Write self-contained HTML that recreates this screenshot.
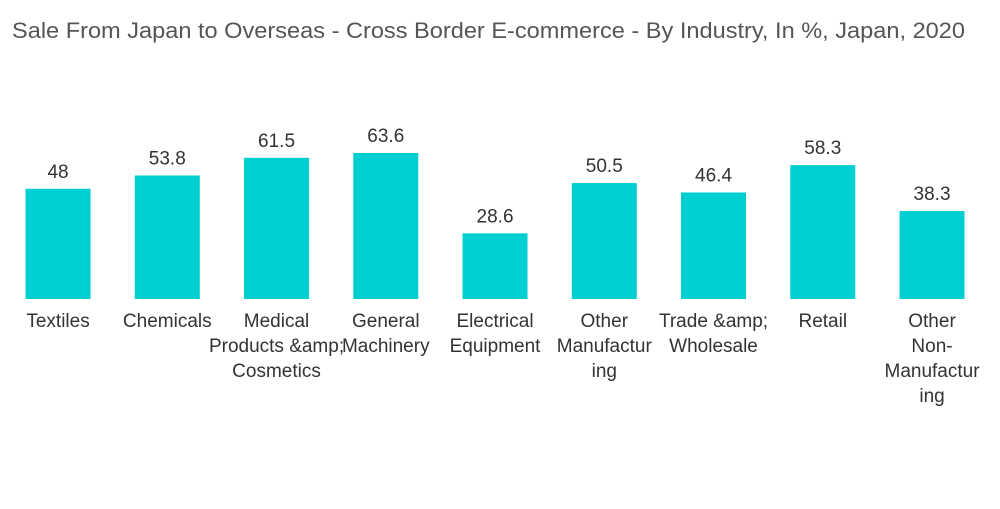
<!DOCTYPE html>
<html><head><meta charset="utf-8"><style>
body{margin:0;background:#fff;width:1000px;height:504px;overflow:hidden;font-family:"Liberation Sans",sans-serif}
svg text{font-family:"Liberation Sans",sans-serif}
</style></head><body>
<svg width="1000" height="504">
<text x="12" y="38" font-size="22" fill="#555" textLength="953" lengthAdjust="spacingAndGlyphs">Sale From Japan to Overseas - Cross Border E-commerce - By Industry, In %, Japan, 2020</text>
<g id="bars"></g>
</svg>
<script>
const categories=[["Textiles"],["Chemicals"],["Medical","Products &amp;","Cosmetics"],["General","Machinery"],["Electrical","Equipment"],["Other","Manufactur","ing"],["Trade &amp;","Wholesale"],["Retail"],["Other","Non-","Manufactur","ing"]];
const values=[48,53.8,61.5,63.6,28.6,50.5,46.4,58.3,38.3];
const labels=["48","53.8","61.5","63.6","28.6","50.5","46.4","58.3","38.3"];
const x0=3.4,slot=109.25,base=299,scale=2.296,bw=65;
const ns="http://www.w3.org/2000/svg",g=document.getElementById('bars');
const xs=i=>x0+slot*(i+0.5), ys=v=>base-v*scale;
values.forEach((v,i)=>{
 const r=document.createElementNS(ns,'rect');
 r.setAttribute('x',xs(i)-bw/2);r.setAttribute('y',ys(v));r.setAttribute('width',bw);r.setAttribute('height',base-ys(v));r.setAttribute('fill','#00cfd1');
 
 
 g.appendChild(r);
 const t=document.createElementNS(ns,'text');
 t.setAttribute('x',xs(i));t.setAttribute('y',ys(v)-11);t.setAttribute('text-anchor','middle');t.setAttribute('font-size','19');t.setAttribute('fill','#333');
 t.textContent=labels[i];
 
 
 g.appendChild(t);
 categories[i].forEach((l,j)=>{
  const c=document.createElementNS(ns,'text');
  c.setAttribute('x',xs(i));c.setAttribute('y',327+j*25);c.setAttribute('text-anchor','middle');c.setAttribute('font-size','19');c.setAttribute('fill','#333');
  c.textContent=l;
  
  
  g.appendChild(c);
 });
});
</script>
</body></html>
